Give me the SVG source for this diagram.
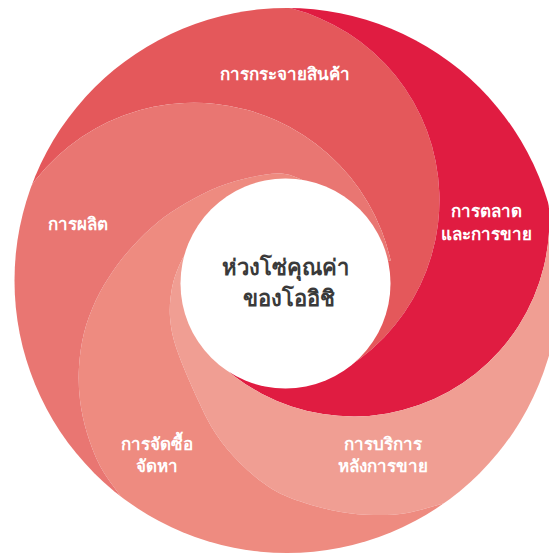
<svg xmlns="http://www.w3.org/2000/svg" width="549" height="554" viewBox="0 0 549 554">
<defs>
<clipPath id="ring"><circle cx="287" cy="280.5" r="272.5"/></clipPath>
<style>
.lbl{font-family:'Noto Sans','DejaVu Sans',sans-serif;font-size:17px;font-weight:600;fill:#ffffff;text-anchor:middle}
.ctr{font-family:'Noto Sans','DejaVu Sans',sans-serif;font-size:22px;font-weight:600;fill:#3a3a3a;text-anchor:middle}
</style>
</defs>
<rect width="549" height="554" fill="#ffffff"/>
<g clip-path="url(#ring)">
<g id="distribution">
<path fill="#E4585B" d="M 11.3 219.2 L -123 189.3 A 420 420 0 0 1 244.6 -137.4 L 258.8 2.8 A 198 198 0 0 1 333.4 375.4 L 285.5 284 L 390.7 260.6 A 201.5 201.5 0 0 0 11.3 219.2 Z"/>
</g>
<g id="marketing">
<path fill="#E01C41" d="M 258.8 2.8 L 244.6 -137.4 A 420 420 0 0 1 672.4 113.6 L 542.7 169.8 A 196 196 0 0 1 210.3 354.4 L 285.5 284 L 333.4 375.4 A 198 198 0 0 0 258.8 2.8 Z"/>
</g>
<g id="after-sales">
<path fill="#F09E93" d="M 542.7 169.8 L 672.4 113.6 A 420 420 0 0 1 571.7 589.2 L 483 493 L 445 503 C 432.3 506.3 418.8 511 407 513 C 395.2 515 385 515.2 374 515 C 363 514.8 352.5 514 341 512 C 329.5 510 316.5 506.8 305 503 C 293.5 499.2 282.8 495.7 272 489 C 261.2 482.3 249.3 472.2 240 463 C 230.7 453.8 223 444.5 216 434 C 209 423.5 204.5 414 198 400 C 191.5 386 181.7 363.8 177 350 C 172.3 336.2 170.8 327.3 170 317 C 169.2 306.7 170.5 296.5 172 288 C 173.5 279.5 176.3 272.3 179 266 C 181.7 259.7 183.7 256.3 188 250 C 192.3 243.7 202.2 231.7 205 228 L 285.5 284 L 210.3 354.4 A 196 196 0 0 0 542.7 169.8 Z"/>
</g>
<g id="procurement">
<path fill="#EE8B80" d="M 483 493 L 571.7 589.2 A 420 420 0 0 1 70.6 640.4 L 140 525 L 119 494 C 112.3 484.2 105.3 476.2 100 466 C 94.7 455.8 90.3 444 87 433 C 83.7 422 81.3 411 80 400 C 78.7 389 78.3 378.2 79 367 C 79.7 355.8 81.2 344.2 84 333 C 86.8 321.8 91.2 310.3 96 300 C 100.8 289.7 106.8 280 113 271 C 119.2 262 125.5 254.2 133 246 C 140.5 237.8 149.2 229.2 158 222 C 166.8 214.8 176 208.8 186 203 C 196 197.2 207 191.3 218 187 C 229 182.7 240.8 179.2 252 177 C 263.2 174.8 274.5 172.5 285 174 C 295.5 175.5 310 184 315 186 L 285.5 284 L 205 228 C 202.2 231.7 192.3 243.7 188 250 C 183.7 256.3 181.7 259.7 179 266 C 176.3 272.3 173.5 279.5 172 288 C 170.5 296.5 169.2 306.7 170 317 C 170.8 327.3 172.3 336.2 177 350 C 181.7 363.8 191.5 386 198 400 C 204.5 414 209 423.5 216 434 C 223 444.5 230.7 453.8 240 463 C 249.3 472.2 261.2 482.3 272 489 C 282.8 495.7 293.5 499.2 305 503 C 316.5 506.8 329.5 510 341 512 C 352.5 514 363 514.8 374 515 C 385 515.2 395.2 515 407 513 C 418.8 511 432.3 506.3 445 503 Z"/>
</g>
<g id="production">
<path fill="#E97672" d="M 140 525 L 70.6 640.4 A 420 420 0 0 1 -123 189.3 L 11.3 219.2 A 201.5 201.5 0 0 1 390.7 260.6 L 285.5 284 L 315 186 C 310 184 295.5 175.5 285 174 C 274.5 172.5 263.2 174.8 252 177 C 240.8 179.2 229 182.7 218 187 C 207 191.3 196 197.2 186 203 C 176 208.8 166.8 214.8 158 222 C 149.2 229.2 140.5 237.8 133 246 C 125.5 254.2 119.2 262 113 271 C 106.8 280 100.8 289.7 96 300 C 91.2 310.3 86.8 321.8 84 333 C 81.2 344.2 79.7 355.8 79 367 C 78.3 378.2 78.7 389 80 400 C 81.3 411 83.7 422 87 433 C 90.3 444 94.7 455.8 100 466 C 105.3 476.2 112.3 484.2 119 494 Z"/>
</g>
</g>
<g id="connectors"/>
<g id="labels">
<text class="lbl" x="285" y="80">การกระจายสินค้า</text>
<text class="lbl" x="486" y="217">การตลาด</text>
<text class="lbl" x="486" y="240">และการขาย</text>
<text class="lbl" x="383" y="450">การบริการ</text>
<text class="lbl" x="383" y="472">หลังการขาย</text>
<text class="lbl" x="157" y="450">การจัดซื้อ</text>
<text class="lbl" x="157" y="472">จัดหา</text>
<text class="lbl" x="78" y="230">การผลิต</text>
</g>
<g id="value-chain">
<circle cx="285.5" cy="283.5" r="105" fill="#ffffff"/>
<text class="ctr" x="285" y="275">ห่วงโซ่คุณค่า</text>
<text class="ctr" x="289" y="306">ของโออิชิ</text>
</g>
</svg>
